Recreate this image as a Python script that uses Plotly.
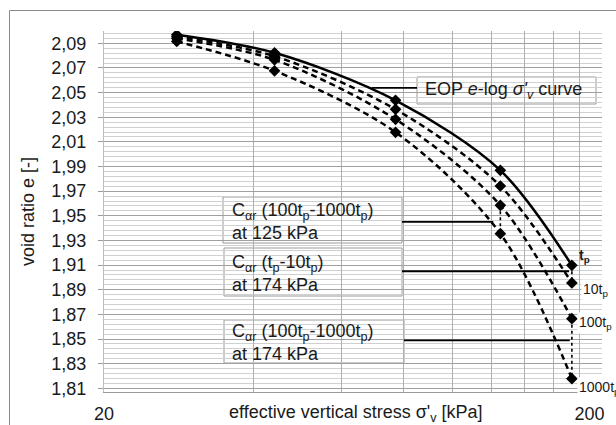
import math
import plotly.graph_objects as go

# ---------------- data ----------------
stress = [28, 44, 77, 125, 174]          # kPa
e_tp = [2.0970, 2.0823, 2.0437, 1.9869, 1.9098]
e_10tp = [2.0955, 2.0795, 2.0364, 1.9742, 1.8955]
e_100tp = [2.0940, 2.0766, 2.0283, 1.9585, 1.8665]
e_1000tp = [2.0915, 2.0677, 2.0178, 1.9355, 1.8178]

curve_names = ["t<sub>p</sub>", "10t<sub>p</sub>", "100t<sub>p</sub>", "1000t<sub>p</sub>"]

x_tickvals = [20, 40, 60, 80, 100, 120, 140, 160, 180, 200]
x_ticktext = ["20", "", "", "", "", "", "", "", "", "200\u00a0\u00a0\u00a0\u00a0\u00a0"]

# C_alpha_r drops (stress, e_from, e_to)
drop_125 = (125, 1.9585, 1.9355)
drop_174a = (174, 1.9098, 1.8955)
drop_174b = (174, 1.8665, 1.8178)

# leader line targets (stress at curve end, e level)
leader_eop = (69.0, 2.0539)
leader_125 = (121.0, 1.9450)
leader_174a = (171.8, 1.9050)
leader_174b = (172.3, 1.8489)

# ---------------- layout geometry ----------------
W, H = 616, 425
L, R, T, B = 104, 14, 31, 33
PW, PH = W - L - R, H - T - B
X0, X1 = 20, 200
Y0, Y1 = 1.807, 2.10


def px_x(px):
    return (px - L) / PW


def px_y(py):
    return (H - B - py) / PH


def px_to_stress(px):
    return X0 * 10 ** ((px - L) / PW * math.log10(X1 / X0))


FONT = "Liberation Sans, Arial, sans-serif"
TXT = "#1a1a1a"
FS = 18

fig = go.Figure()

styles = [
    dict(color="black", width=2.5, dash="solid"),
    dict(color="black", width=2.5, dash="6px,4px"),
    dict(color="black", width=2.5, dash="6px,4px"),
    dict(color="black", width=2.5, dash="6px,4px"),
]
for ys, nm, st in zip([e_tp, e_10tp, e_100tp, e_1000tp], curve_names, styles):
    fig.add_trace(go.Scatter(
        x=stress, y=ys, name=nm, mode="lines+markers",
        line=dict(shape="spline", smoothing=0.9, **st),
        marker=dict(symbol="diamond", size=9, color="black"),
        showlegend=False, hoverinfo="skip"))

# dotted drops
for s, a, b in [drop_125, drop_174a, drop_174b]:
    fig.add_trace(go.Scatter(x=[s, s], y=[a, b], mode="lines",
                             line=dict(color="black", width=1.6, dash="dot"),
                             showlegend=False, hoverinfo="skip"))

# boxes (pixel geometry)
boxes = [
    (417, 77, 596, 104),
    (223, 197, 402, 243),
    (224, 248, 402, 296),
    (224, 320, 404, 363),
]
shapes = []
for (bx0, by0, bx1, by1) in boxes:
    shapes.append(dict(type="rect", xref="paper", yref="paper",
                       x0=px_x(bx0), x1=px_x(bx1), y0=px_y(by1), y1=px_y(by0),
                       line=dict(color="#9a9a9a", width=1), fillcolor="white",
                       layer="between"))
# outer chart-area frame
shapes.append(dict(type="rect", xref="paper", yref="paper",
                   x0=px_x(9.5), x1=px_x(700), y0=px_y(700), y1=px_y(10.5),
                   line=dict(color="#8a8a8a", width=1), fillcolor="rgba(0,0,0,0)",
                   layer="above"))

# leader lines: from box edge to curve
leaders = [
    (px_to_stress(417), leader_eop),
    (px_to_stress(402), leader_125),
    (px_to_stress(402), leader_174a),
    (px_to_stress(404), leader_174b),
]
for sx, (ex, ey) in leaders:
    fig.add_trace(go.Scatter(x=[sx, ex], y=[ey, ey], mode="lines",
                             line=dict(color="black", width=1.8),
                             showlegend=False, hoverinfo="skip"))

annotations = [
    dict(text="EOP <i>e</i>-log <i>σ'</i><sub><i>v</i></sub> curve", x=px_x(423), y=px_y(91)),
    dict(text="C<sub>αr</sub> (100t<sub>p</sub>-1000t<sub>p</sub>)<br>at 125 kPa", x=px_x(230), y=px_y(221)),
    dict(text="C<sub>αr</sub> (t<sub>p</sub>-10t<sub>p</sub>)<br>at 174 kPa", x=px_x(230), y=px_y(273)),
    dict(text="C<sub>αr</sub> (100t<sub>p</sub>-1000t<sub>p</sub>)<br>at 174 kPa", x=px_x(230), y=px_y(342.5)),
]
ann = []
for a in annotations:
    ann.append(dict(xref="paper", yref="paper", xanchor="left", yanchor="middle",
                    showarrow=False, align="left",
                    font=dict(family=FONT, size=FS, color=TXT), **a))

# curve end labels next to 174 kPa markers
end_vals = [e_tp[-1], e_10tp[-1], e_100tp[-1], e_1000tp[-1]]
end_shift = [(5, 9), (9, -7), (5, -4), (5, -9)]
for i, (nm, ev, (dx, dy)) in enumerate(zip(curve_names, end_vals, end_shift)):
    txt = "<b>" + nm + "</b>" if i == 0 else nm
    ann.append(dict(x=math.log10(stress[-1]), y=ev, xref="x", yref="y",
                    xanchor="left", yanchor="middle", xshift=dx, yshift=dy,
                    text=txt, showarrow=False, bgcolor="white" if i else None,
                    font=dict(family=FONT, size=14, color=TXT)))

# x axis title as annotation (same line as tick labels)
ann.append(dict(xref="paper", yref="paper", x=px_x(356), y=px_y(413),
                xanchor="center", yanchor="middle", showarrow=False,
                text="effective vertical stress σ'<sub>v</sub> [kPa]",
                font=dict(family=FONT, size=FS, color=TXT)))

fig.update_layout(
    width=W, height=H,
    margin=dict(l=L, r=R, t=T, b=B, pad=0),
    paper_bgcolor="white", plot_bgcolor="white",
    separators=",.",
    font=dict(family=FONT, size=FS, color=TXT),
    shapes=shapes, annotations=ann,
    xaxis=dict(type="log", range=[math.log10(X0), math.log10(X1)],
               tickmode="array", tickvals=x_tickvals, ticktext=x_ticktext,
               showgrid=True, gridcolor="#b0b0b0", gridwidth=1,
               showline=True, linecolor="#9a9a9a", linewidth=1,
               ticks="", ticklabelstandoff=5, ticklabeloverflow="allow",
               tickfont=dict(family=FONT, size=FS, color=TXT),
               zeroline=False, fixedrange=True, automargin=False),
    yaxis=dict(range=[Y0, Y1], tickmode="linear", tick0=1.81, dtick=0.02,
               tickformat=".2f",
               showgrid=True, gridcolor="#a0a0a0", gridwidth=1,
               minor=dict(tickmode="linear", tick0=1.81, dtick=0.004,
                          showgrid=True, gridcolor="#d0d0d0", gridwidth=1),
               showline=True, linecolor="#bdbdbd", linewidth=1,
               ticks="outside", ticklen=5, tickcolor="#9a9a9a",
               ticklabelstandoff=8,
               tickfont=dict(family=FONT, size=FS, color=TXT),
               title=dict(text="void ratio e [-]", standoff=12,
                          font=dict(family=FONT, size=FS, color=TXT)),
               zeroline=False, fixedrange=True, automargin=False),
)

fig.write_html("out.html")
